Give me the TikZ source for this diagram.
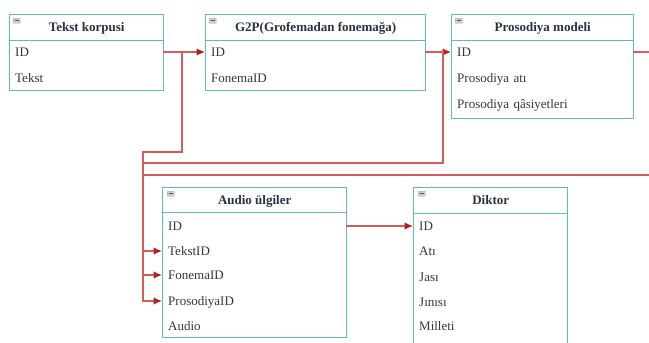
\documentclass[tikz,border=0pt]{standalone}
\usepackage{fontspec}
\setmainfont{Liberation Serif}
\usetikzlibrary{arrows.meta}
\definecolor{tealb}{RGB}{96,188,184}
\definecolor{redl}{RGB}{212,92,92}
\definecolor{redh}{RGB}{185,30,30}
\definecolor{txt}{RGB}{55,55,55}
\definecolor{ttl}{RGB}{40,50,65}
\tikzset{
  hdr/.style={draw=tealb, line width=1.4pt, anchor=north west, inner sep=0pt,
    minimum height=26pt, font=\fontsize{13}{15}\selectfont\bfseries, text=ttl,
    text height=9pt, text depth=1pt},
  body/.style={draw=tealb, line width=1.4pt, anchor=north west, inner sep=0pt},
  rowtxt/.style={anchor=west, inner xsep=6pt, inner ysep=0pt, align=left,
    font=\fontsize{13}{15}\selectfont, text=txt, text height=9pt, text depth=1pt},
  icon/.style={anchor=north west, draw=gray!70, fill=gray!40, minimum width=7pt,
    minimum height=5pt, inner sep=0pt, rounded corners=0.5pt,
    path picture={\draw[line width=0.7pt, black!65]
      ([xshift=1.3pt]path picture bounding box.west) -- ([xshift=-1.3pt]path picture bounding box.east);}},
  link/.style={draw=redl, line width=1.2pt},
  linkarr/.style={link, -{Latex[length=8.5pt,width=7.5pt,color=redh]}}
}
\begin{document}
\begin{tikzpicture}[x=1pt,y=-1pt]
\clip (0,0) rectangle (649,343);
\fill[white] (0,0) rectangle (649,343);

% Tekst korpusi
\node[hdr, minimum width=154pt] (tkh) at (9,14) {Tekst korpusi};
\node[body, minimum width=154pt, minimum height=50pt] (tk) at (9,40) {};
\node[icon] (tki) at (13,18) {};
\node[rowtxt, text width=142pt] (tkid) at (9,52) {ID};
\node[rowtxt, text width=142pt] (tktx) at (9,78) {Tekst};

% G2P
\node[hdr, minimum width=220pt] (gph) at (205,14) {G2P(Grofemadan fonemağa)};
\node[body, minimum width=220pt, minimum height=50pt] (gp) at (205,40) {};
\node[icon] (gpi) at (209,18) {};
\node[rowtxt, text width=208pt] (gpid) at (205,52) {ID};
\node[rowtxt, text width=208pt] (gpfo) at (205,78) {FonemaID};

% Prosodiya modeli
\node[hdr, minimum width=182pt] (pmh) at (451,14) {Prosodiya modeli};
\node[body, minimum width=182pt, minimum height=78pt] (pm) at (451,40) {};
\node[icon] (pmi) at (455,18) {};
\node[rowtxt, text width=170pt] (pmid) at (451,52) {ID};
\node[rowtxt, text width=170pt] (pmat) at (451,78) {\mbox{Prosodiya atı}};
\node[rowtxt, text width=170pt] (pmqa) at (451,104) {\mbox{Prosodiya qâsiyetleri}};

% Audio ulgiler
\node[hdr, minimum width=184pt, minimum height=25pt] (auh) at (162,187) {Audio ülgiler};
\node[body, minimum width=184pt, minimum height=125pt] (au) at (162,212) {};
\node[icon] (aui) at (167,191) {};
\node[rowtxt, text width=172pt] (auid) at (162,226) {ID};
\node[rowtxt, text width=172pt] (autk) at (162,251) {TekstID};
\node[rowtxt, text width=172pt] (aufo) at (162,275) {FonemaID};
\node[rowtxt, text width=172pt] (aupr) at (162,301) {ProsodiyaID};
\node[rowtxt, text width=172pt] (auau) at (162,326) {Audio};

% Diktor
\node[hdr, minimum width=154pt, minimum height=26pt] (dkh) at (413,187) {Diktor};
\node[body, minimum width=154pt, minimum height=150pt] (dk) at (413,213) {};
\node[icon] (dki) at (418,191) {};
\node[rowtxt, text width=142pt] (dkid) at (413,226) {ID};
\node[rowtxt, text width=142pt] (dkat) at (413,251) {Atı};
\node[rowtxt, text width=142pt] (dkja) at (413,277) {Jası};
\node[rowtxt, text width=142pt] (dkji) at (413,302) {Jınısı};
\node[rowtxt, text width=142pt] (dkmi) at (413,326) {Milleti};

% routing points
\coordinate (c1) at (182,152);
\coordinate (c2) at (143,152);
\coordinate (c3) at (443,163);
\coordinate (c4) at (143,163);
\coordinate (c5) at (665,52);
\coordinate (c6) at (665,175);
\coordinate (c7) at (143,175);

% connectors
\draw[linkarr] (tkid.east) -- (gpid.west);
\draw[linkarr] (tkid.east) -| (c1) -- (c2) |- (autk.west);
\draw[linkarr] (gpid.east) -- (pmid.west);
\draw[linkarr] (gpid.east) -| (c3) -- (c4) |- (aufo.west);
\draw[linkarr] (pmid.east) -- (c5) -- (c6) -- (c7) |- (aupr.west);
\draw[linkarr] (auid.east) -- (dkid.west);
\end{tikzpicture}
\end{document}
